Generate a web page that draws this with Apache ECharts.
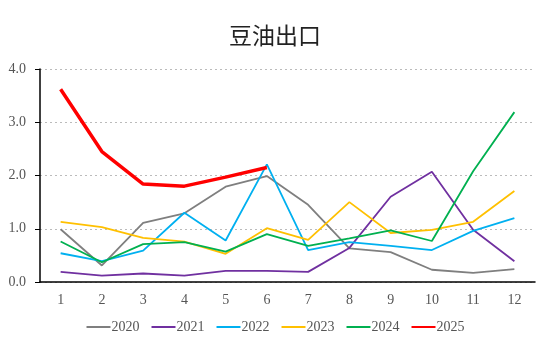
<!DOCTYPE html>
<html><head><meta charset="utf-8">
<script src="https://cdn.jsdelivr.net/npm/echarts@6/dist/echarts.min.js"></script>
<style>html,body{margin:0;padding:0;background:#fff}#c{width:550px;height:348px}</style>
</head><body><div id="c"></div>
<script>
const months = ['1','2','3','4','5','6','7','8','9','10','11','12'];
const y2020 = [0.99,0.31,1.11,1.29,1.79,1.99,1.45,0.63,0.56,0.23,0.17,0.24];
const y2021 = [0.19,0.12,0.16,0.12,0.21,0.21,0.19,0.64,1.60,2.07,0.98,0.39];
const y2022 = [0.54,0.39,0.59,1.30,0.78,2.21,0.60,0.75,0.68,0.60,0.96,1.20];
const y2023 = [1.13,1.03,0.83,0.76,0.53,1.01,0.79,1.50,0.92,0.98,1.13,1.71];
const y2024 = [0.76,0.37,0.71,0.75,0.57,0.90,0.68,0.82,0.97,0.77,2.08,3.19];
const y2025 = [3.62,2.45,1.84,1.80,1.97,2.15];
const names = ['2020','2021','2022','2023','2024','2025'];
const colors = ['#7f7f7f','#7030a0','#00b0f0','#ffc000','#00b050','#ff0000'];
const data = [y2020,y2021,y2022,y2023,y2024,y2025];
const serif = '"Liberation Serif","DejaVu Serif",serif';
const chart = echarts.init(document.getElementById('c'));
chart.setOption({
  animation:false,
  title:{text:'豆油出口',left:'center',top:19,textStyle:{fontFamily:'"Noto Sans CJK SC"',fontSize:23,fontWeight:'normal',color:'#222'}},
  grid:{left:40,right:15,top:69,bottom:66},
  legend:{bottom:9,left:'center',itemWidth:24,itemHeight:8,itemGap:11,itemStyle:{opacity:0},
    textStyle:{fontFamily:serif,fontSize:14,color:'#555',padding:[0,0,0,-4]},data:names},
  xAxis:{type:'category',data:months,boundaryGap:true,
    axisLine:{lineStyle:{color:'#000',width:1.5}},axisTick:{show:false},
    axisLabel:{fontFamily:serif,fontSize:14,color:'#555',margin:11}},
  yAxis:{type:'value',min:0,max:4,interval:1,
    axisLine:{show:true,lineStyle:{color:'#000',width:1.5}},
    axisTick:{show:true,length:5,lineStyle:{color:'#000'}},
    axisLabel:{fontFamily:serif,fontSize:14,color:'#555',margin:14,formatter:v=>v.toFixed(1)},
    splitLine:{lineStyle:{color:'#bbb',type:[2,3]}}},
  series:data.map((d,i)=>({name:names[i],type:'line',data:d,symbol:'none',
    lineStyle:{color:colors[i],width:i===5?3.5:1.8},itemStyle:{color:colors[i]},z:i===5?10:2}))
});
</script></body></html>
